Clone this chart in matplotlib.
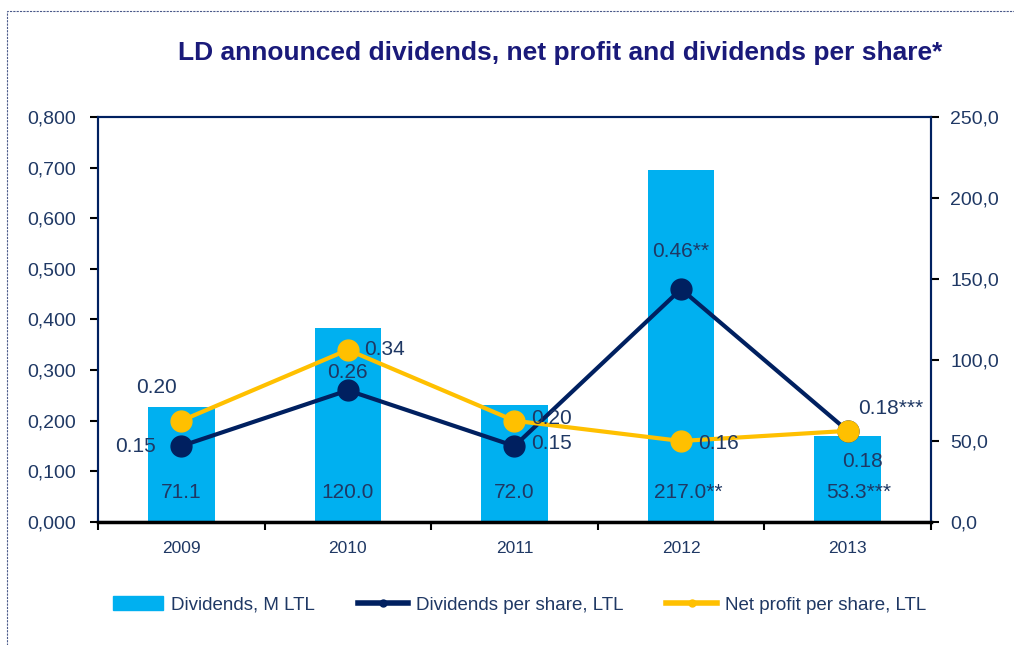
import matplotlib.pyplot as plt
from matplotlib.patches import Rectangle, Patch
from matplotlib.lines import Line2D
from matplotlib.ticker import FuncFormatter

years = ['2009', '2010', '2011', '2012', '2013']
dividends = [71.1, 120.0, 72.0, 217.0, 53.3]
dividend_labels = ['71.1', '120.0', '72.0', '217.0**', '53.3***']
dps = [0.15, 0.26, 0.15, 0.46, 0.18]
dps_labels = ['0.15', '0.26', '0.15', '0.46**', '0.18']
nps = [0.20, 0.34, 0.20, 0.16, 0.18]
nps_labels = ['0.20', '0.34', '0.20', '0.16', '0.18***']

bar_col = '#00B0F0'
navy = '#002060'
yellow = '#FFC000'
txt = '#1F3864'

plt.rcParams['font.family'] = ['Liberation Sans', 'DejaVu Sans']

fig = plt.figure(figsize=(10.14, 6.45), dpi=100)
ax = fig.add_axes([0.0966, 0.1907, 0.8215, 0.628])
ax2 = ax.twinx()
ax.set_zorder(2)
ax.patch.set_visible(False)

x = list(range(len(years)))
ax2.bar(x, dividends, width=0.4, color=bar_col, zorder=1)
ax2.set_ylim(0, 250)
ax2.set_yticks([0, 50, 100, 150, 200, 250])
ax2.yaxis.set_major_formatter(FuncFormatter(lambda v, p: f'{v:.1f}'.replace('.', ',')))
bar_lab_dx = [0, 0, 0, -0.16, -0.13]
for i, lab in enumerate(dividend_labels):
    ha = 'left' if lab.endswith('*') else 'center'
    ax2.text(i + bar_lab_dx[i], 18, lab, ha=ha, va='center', fontsize=15, color=txt)

ax.plot(x, dps, color=navy, lw=3, marker='o', ms=15, zorder=3)
ax.plot(x, nps, color=yellow, lw=3, marker='o', ms=15, zorder=4)
ax.set_xlim(-0.5, 4.5)
ax.set_ylim(0, 0.8)
ax.set_yticks([i / 10 for i in range(9)])
ax.yaxis.set_major_formatter(FuncFormatter(lambda v, p: f'{v:.3f}'.replace('.', ',')))
ax.set_xticks(x)
ax.set_xticklabels(years)
ax.set_xticks([i + 0.5 for i in range(-1, 5)], minor=True)
ax.tick_params(axis='x', which='major', length=0, pad=14, labelsize=12.5, labelcolor=txt)
ax.tick_params(axis='x', which='minor', length=6, width=1.5, color='black', direction='out')
ax.tick_params(axis='y', length=6, width=1.5, color='black', labelsize=14, labelcolor=txt, pad=10)
ax2.tick_params(axis='y', length=6, width=1.5, color='black', labelsize=14, labelcolor=txt, pad=8)

for a in (ax, ax2):
    for s in a.spines.values():
        s.set_color(navy)
        s.set_linewidth(1.5)
ax.spines['bottom'].set_color('black')
ax.spines['bottom'].set_linewidth(2.5)

# value labels for lines: (dx, dy, ha)
dps_off = [(-0.15, 0.0, 'right'), (0, 0.035, 'center'), (0.1, 0.005, 'left'),
           (0, 0.075, 'center'), (0.09, -0.06, 'center')]
nps_off = [(-0.15, 0.065, 'center'), (0.1, 0.0, 'left'), (0.1, 0.005, 'left'),
           (0.1, -0.005, 'left'), (0.06, 0.045, 'left')]
for i in range(5):
    dx, dy, ha = dps_off[i]
    ax.text(i + dx, dps[i] + dy, dps_labels[i], ha=ha, va='center', fontsize=15, color=txt, zorder=5)
    dx, dy, ha = nps_off[i]
    ax.text(i + dx, nps[i] + dy, nps_labels[i], ha=ha, va='center', fontsize=15, color=txt, zorder=5)

fig.text(0.552, 0.918, 'LD announced dividends, net profit and dividends per share*',
         ha='center', va='center', fontsize=19, fontweight='bold', color='#1A1A7A')

handles = [Patch(color=bar_col),
           Line2D([], [], color=navy, lw=4, marker='o', ms=5),
           Line2D([], [], color=yellow, lw=4, marker='o', ms=5)]
fig.legend(handles, ['Dividends, M LTL', 'Dividends per share, LTL', 'Net profit per share, LTL'],
           loc='center', bbox_to_anchor=(0.512, 0.062), ncol=3, frameon=False,
           fontsize=13.5, labelcolor=txt, handlelength=2.7, columnspacing=2.3, handletextpad=0.4)

fig.patches.append(Rectangle((0.007, -0.02), 1.02, 1.003, transform=fig.transFigure,
                             fill=False, ls=(0, (2, 1)), lw=0.8, ec='#4A5A8A'))

fig.savefig('out.png', dpi=100)
